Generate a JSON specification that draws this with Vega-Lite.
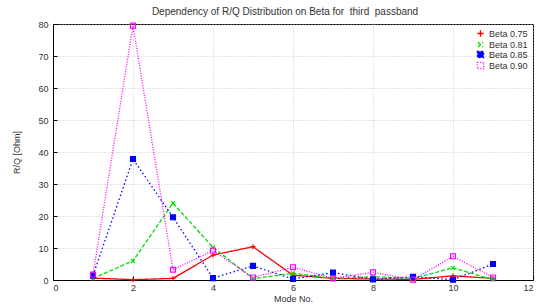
{
  "$schema": "https://vega.github.io/schema/vega-lite/v6.json",
  "width": 480,
  "height": 256,
  "autosize": "none",
  "padding": {"left": 53, "top": 24, "right": 3, "bottom": 28},
  "title": {"text": "Dependency of R/Q Distribution on Beta for \u00a0third \u00a0passband", "fontSize": 10, "font": "Liberation Sans", "fontWeight": "normal", "color": "#333", "offset": 3, "anchor": "middle", "dx": -8},
  "config": {
    "view": {"stroke": "black", "strokeWidth": 1},
    "font": "Liberation Sans",
    "axis": {"labelFont": "Liberation Sans", "labelFontSize": 9, "labelColor": "#333", "titleFont": "Liberation Sans", "titleFontSize": 9, "titleFontWeight": "normal", "titleColor": "#333", "gridColor": "#bbb", "gridDash": [1, 2], "gridWidth": 0.8, "domainColor": "black", "tickColor": "black", "tickSize": -4}
  },
  "data": {"values": [
    {"mode": 1, "series": "Beta 0.75", "rq": 0.6},
    {"mode": 2, "series": "Beta 0.75", "rq": 0.1},
    {"mode": 3, "series": "Beta 0.75", "rq": 0.5},
    {"mode": 4, "series": "Beta 0.75", "rq": 7.8},
    {"mode": 5, "series": "Beta 0.75", "rq": 10.4},
    {"mode": 6, "series": "Beta 0.75", "rq": 1.5},
    {"mode": 7, "series": "Beta 0.75", "rq": 0.5},
    {"mode": 8, "series": "Beta 0.75", "rq": 0.3},
    {"mode": 9, "series": "Beta 0.75", "rq": 0.2},
    {"mode": 10, "series": "Beta 0.75", "rq": 1.3},
    {"mode": 11, "series": "Beta 0.75", "rq": 0.5},
    {"mode": 1, "series": "Beta 0.81", "rq": 0.5},
    {"mode": 2, "series": "Beta 0.81", "rq": 6.0},
    {"mode": 3, "series": "Beta 0.81", "rq": 24.0},
    {"mode": 4, "series": "Beta 0.81", "rq": 10.2},
    {"mode": 5, "series": "Beta 0.81", "rq": 0.4},
    {"mode": 6, "series": "Beta 0.81", "rq": 2.1},
    {"mode": 7, "series": "Beta 0.81", "rq": 0.5},
    {"mode": 8, "series": "Beta 0.81", "rq": 1.0},
    {"mode": 9, "series": "Beta 0.81", "rq": 0.5},
    {"mode": 10, "series": "Beta 0.81", "rq": 3.8},
    {"mode": 11, "series": "Beta 0.81", "rq": 0.1},
    {"mode": 1, "series": "Beta 0.85", "rq": 1.4},
    {"mode": 2, "series": "Beta 0.85", "rq": 37.8},
    {"mode": 3, "series": "Beta 0.85", "rq": 19.6},
    {"mode": 4, "series": "Beta 0.85", "rq": 0.6},
    {"mode": 5, "series": "Beta 0.85", "rq": 4.4},
    {"mode": 6, "series": "Beta 0.85", "rq": 0.3},
    {"mode": 7, "series": "Beta 0.85", "rq": 2.3},
    {"mode": 8, "series": "Beta 0.85", "rq": 0.2},
    {"mode": 9, "series": "Beta 0.85", "rq": 1.0},
    {"mode": 10, "series": "Beta 0.85", "rq": 0.1},
    {"mode": 11, "series": "Beta 0.85", "rq": 5.0},
    {"mode": 1, "series": "Beta 0.90", "rq": 1.7},
    {"mode": 2, "series": "Beta 0.90", "rq": 79.5},
    {"mode": 3, "series": "Beta 0.90", "rq": 3.2},
    {"mode": 4, "series": "Beta 0.90", "rq": 9.2},
    {"mode": 5, "series": "Beta 0.90", "rq": 0.8},
    {"mode": 6, "series": "Beta 0.90", "rq": 4.0},
    {"mode": 7, "series": "Beta 0.90", "rq": 0.5},
    {"mode": 8, "series": "Beta 0.90", "rq": 2.4},
    {"mode": 9, "series": "Beta 0.90", "rq": 0.1},
    {"mode": 10, "series": "Beta 0.90", "rq": 7.4},
    {"mode": 11, "series": "Beta 0.90", "rq": 0.8}
  ]},
  "encoding": {
    "x": {"field": "mode", "type": "quantitative", "scale": {"domain": [0, 12], "nice": false}, "axis": {"values": [0, 2, 4, 6, 8, 10, 12], "title": "Mode No.", "titlePadding": 2, "labelPadding": 7}},
    "y": {"field": "rq", "type": "quantitative", "scale": {"domain": [0, 80], "nice": false}, "axis": {"values": [0, 10, 20, 30, 40, 50, 60, 70, 80], "title": "R/Q [Ohm]", "titlePadding": 16, "labelPadding": 9}},
    "color": {"field": "series", "type": "nominal", "scale": {"domain": ["Beta 0.75", "Beta 0.81", "Beta 0.85", "Beta 0.90"], "range": ["#ff0000", "#00e000", "#0000ff", "#ff00ff"]}, "legend": {"title": null, "orient": "top-right", "offset": 3, "labelFontSize": 9, "labelFont": "Liberation Sans", "labelColor": "#333", "rowPadding": -2, "symbolType": "stroke", "symbolSize": 40, "symbolStrokeWidth": 1.3, "padding": 2, "labelLimit": 100}}
  },
  "layer": [
    {
      "mark": {"type": "line", "strokeWidth": 1.3},
      "encoding": {
        "strokeDash": {"field": "series", "type": "nominal", "scale": {"domain": ["Beta 0.75", "Beta 0.81", "Beta 0.85", "Beta 0.90"], "range": [[1, 0], [4, 2], [1.5, 2.5], [1, 1.5]]}, "legend": {"title": null, "symbolType": "stroke"}},
        "strokeWidth": {"field": "series", "type": "nominal", "scale": {"domain": ["Beta 0.75", "Beta 0.81", "Beta 0.85", "Beta 0.90"], "range": [1.4, 1.3, 1.6, 1.0]}, "legend": null}
      }
    },
    {
      "mark": {"type": "point", "size": 24, "strokeWidth": 1.2, "opacity": 1},
      "encoding": {
        "shape": {"field": "series", "type": "nominal", "scale": {"domain": ["Beta 0.75", "Beta 0.81", "Beta 0.85", "Beta 0.90"], "range": ["M-1,0L1,0M0,-1L0,1", "M-0.8,-0.8L0.8,0.8M-0.8,0.8L0.8,-0.8", "square", "square"]}, "legend": null},
        "fill": {"field": "series", "type": "nominal", "scale": {"domain": ["Beta 0.75", "Beta 0.81", "Beta 0.85", "Beta 0.90"], "range": ["transparent", "transparent", "#0000ff", "transparent"]}, "legend": null}
      }
    }
  ]
}
